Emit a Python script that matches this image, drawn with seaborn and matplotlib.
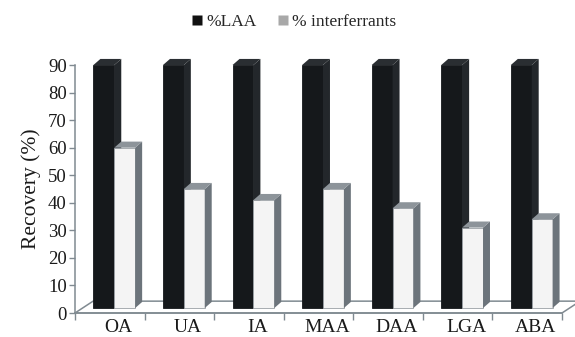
import numpy as np
import pandas as pd
import matplotlib
matplotlib.use("Agg")
import matplotlib.pyplot as plt
import seaborn as sns
from matplotlib.patches import Polygon
from matplotlib.lines import Line2D

# Recovery of LAA and of the interfering acids for each analyte
categories = ["OA", "UA", "IA", "MAA", "DAA", "LGA", "ABA"]
laa_recovery = [90, 90, 90, 90, 90, 90, 90]
interferrant_recovery = [60, 45, 41, 45, 38, 31, 34]
series_names = ["%LAA", "% interferrants"]
y_ticks = [0, 10, 20, 30, 40, 50, 60, 70, 80, 90]

df = pd.DataFrame({
    "analyte": categories * 2,
    "recovery": laa_recovery + interferrant_recovery,
    "series": [series_names[0]] * len(categories) + [series_names[1]] * len(categories),
})

sns.set_theme(style="white")
plt.rcParams["font.family"] = ["Liberation Serif", "DejaVu Serif"]

W, H = 575, 337
fig = plt.figure(figsize=(W / 100, H / 100), dpi=100)
fig.patch.set_facecolor("white")
ax = fig.add_axes([75 / W, 24 / H, 487 / W, 248 / H])

front_colors = {"%LAA": "#15181b", "% interferrants": "#f4f4f4"}
sns.barplot(data=df, x="analyte", y="recovery", hue="series",
            palette=front_colors, width=0.6, saturation=1,
            legend=False, ax=ax, linewidth=0)

x_lo, x_hi = -0.565, 6.435
ax.set_xlim(x_lo, x_hi)
ax.set_ylim(0, 90)

# pseudo-3D geometry (data units)
dx, dy = 0.10, 2.2          # bar depth offset
base = 1.8                  # bars stand in the middle of the floor
fdx, fdy = 0.26, 4.3        # floor depth

gray_line = "#808a91"
# floor outline
ax.plot([x_lo, x_hi, x_hi + fdx, x_lo + fdx, x_lo],
        [0, 0, fdy, fdy, 0], color=gray_line, lw=1.1, zorder=1,
        clip_on=False)

styles = [
    dict(side="#23272b", top="#2a2e32", edge="#15181b", z=2),
    dict(side="#6c747b", top="#8d949a", edge="#9aa0a5", z=3),
]
for cont, st in zip(ax.containers, styles):
    for p in cont:
        x0, w, h = p.get_x(), p.get_width(), p.get_height()
        p.set_y(base)
        p.set_height(h - base)
        p.set_zorder(st["z"])
        p.set_edgecolor(st["edge"])
        p.set_linewidth(0.6)
        p.set_clip_on(False)
        side = Polygon([(x0 + w, base), (x0 + w + dx, base + dy),
                        (x0 + w + dx, h + dy), (x0 + w, h)],
                       closed=True, facecolor=st["side"], edgecolor="none",
                       zorder=st["z"] + 0.1, clip_on=False)
        top = Polygon([(x0, h), (x0 + dx, h + dy),
                       (x0 + w + dx, h + dy), (x0 + w, h)],
                      closed=True, facecolor=st["top"], edgecolor="none",
                      zorder=st["z"] + 0.1, clip_on=False)
        ax.add_patch(side)
        ax.add_patch(top)

# axes styling
for s in ["top", "right"]:
    ax.spines[s].set_visible(False)
for s in ["left", "bottom"]:
    ax.spines[s].set_color(gray_line)
    ax.spines[s].set_linewidth(1.1)

ax.set_yticks(y_ticks)
ax.tick_params(axis="y", left=True, length=4, width=1, color=gray_line,
               labelsize=13.5, labelcolor="#1a1a1a", pad=2)
ax.set_xticks(np.arange(len(categories)) + 0.06, labels=categories)
ax.set_xticks(np.arange(len(categories) + 1) + x_lo, minor=True)
ax.tick_params(axis="x", which="major", length=0, labelsize=14,
               labelcolor="#1a1a1a", pad=4)
ax.tick_params(axis="x", which="minor", bottom=True, length=5, width=1,
               color=gray_line)
ax.set_xlabel("")
ax.set_ylabel("Recovery (%)", fontsize=15.5, color="#1a1a1a", labelpad=5)

handles = [
    Line2D([], [], marker="s", linestyle="none", markersize=6.5,
           markerfacecolor="#111111", markeredgecolor="none"),
    Line2D([], [], marker="s", linestyle="none", markersize=6.5,
           markerfacecolor="#a8a8a8", markeredgecolor="none"),
]
fig.legend(handles, series_names, loc="center", bbox_to_anchor=(0.51, 0.935),
           ncol=2, frameon=False, fontsize=12.5, handletextpad=0.15,
           columnspacing=1.1, handlelength=0.8)

fig.savefig("out.png", dpi=100, facecolor="white")
